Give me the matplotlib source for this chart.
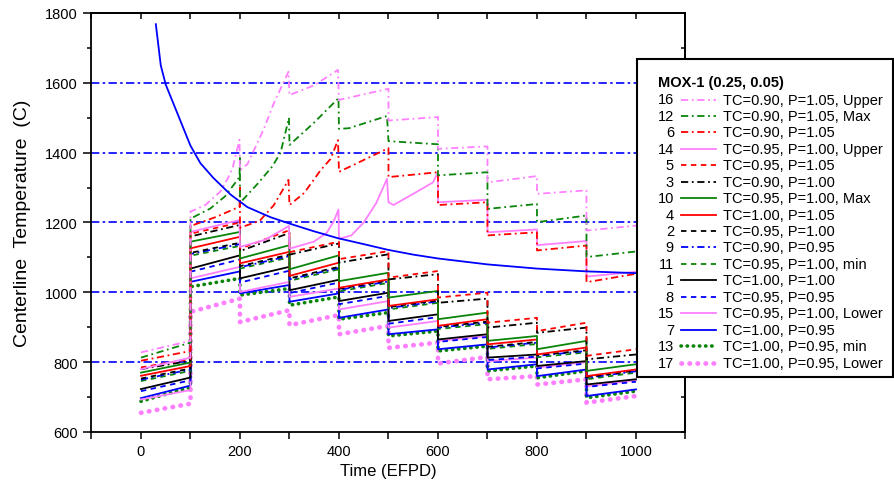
import matplotlib
matplotlib.use("Agg")
import matplotlib.pyplot as plt
from matplotlib.ticker import MultipleLocator
from matplotlib.patches import Rectangle

plt.rcParams['font.family'] = ['Liberation Sans', 'DejaVu Sans']

PINK = '#ff80ff'; GREEN = '#0a850a'; RED = '#ff0000'; BLUE = '#0000ff'; BLACK = '#000000'

# cycle limits (EFPD)
cycle_start = [0, 100, 200, 300, 400, 500, 600, 700, 800, 900]
cycle_end = [100, 200, 300, 400, 500, 600, 700, 800, 900, 1000]

# (start, end) temperature of each cycle
s5 = [(785, 809), (1168, 1200), (1125, 1178), (1115, 1145), (1095, 1118), (1042, 1061), (985, 999), (913, 927), (889, 913), (818, 837)]
s3 = [(780, 804), (1160, 1193), (1118, 1170), (1108, 1140), (1085, 1109), (1037, 1052), (970, 982), (899, 913), (884, 899), (808, 822)]
s10 = [(770, 799), (1145, 1173), (1097, 1135), (1066, 1106), (1032, 1056), (985, 1004), (923, 942), (861, 875), (837, 861), (775, 794)]
s4 = [(761, 789), (1126, 1159), (1083, 1116), (1047, 1085), (1013, 1037), (961, 980), (904, 923), (851, 865), (822, 842), (760, 779)]
s2 = [(753, 782), (1113, 1142), (1075, 1108), (1040, 1073), (1010, 1034), (958, 977), (901, 916), (844, 858), (820, 834), (757, 776)]
s9 = [(750, 779), (1110, 1138), (1072, 1104), (1037, 1070), (1007, 1031), (955, 974), (899, 913), (842, 856), (818, 832), (755, 774)]
s11 = [(746, 775), (1105, 1133), (1068, 1100), (1033, 1066), (1003, 1027), (951, 970), (895, 909), (838, 852), (814, 828), (751, 770)]
s1 = [(723, 756), (1068, 1106), (1040, 1073), (1006, 1036), (975, 999), (918, 937), (865, 880), (813, 822), (789, 803), (736, 751)]
s8 = [(717, 748), (1059, 1094), (1028, 1062), (998, 1028), (966, 990), (910, 929), (858, 872), (806, 816), (782, 796), (729, 744)]
s15 = [(693, 720), (1040, 1073), (1001, 1030), (987, 1011), (951, 975), (899, 918), (861, 875), (803, 813), (785, 800), (731, 748)]
s7 = [(697, 733), (1030, 1060), (997, 1021), (973, 997), (927, 951), (880, 894), (837, 851), (779, 794), (760, 779), (703, 722)]
s13 = [(688, 728), (1016, 1040), (992, 1011), (963, 987), (923, 942), (875, 889), (832, 846), (775, 789), (755, 775), (698, 717)]
s17 = [(655, 681), (944, 982), (915, 949), (906, 935), (880, 904), (841, 856), (796, 815), (751, 760), (736, 751), (684, 703)]

# upper curves, point by point
s16_t = [0, 100, 100, 130, 160, 175, 185, 199, 200, 215, 248, 268, 282, 298, 300, 350, 398, 400, 500, 500, 600, 600, 700, 700, 800, 800, 900, 900, 1000]
s16_T = [828, 861, 1231, 1250, 1288, 1325, 1355, 1437, 1350, 1367, 1467, 1540, 1583, 1632, 1565, 1593, 1637, 1551, 1583, 1492, 1502, 1411, 1418, 1315, 1333, 1282, 1292, 1177, 1191]
s12_t = [0, 100, 100, 140, 170, 199, 200, 200, 235, 265, 282, 299, 300, 349, 399, 400, 420, 497, 500, 600, 600, 700, 700, 800, 800, 900, 900, 1000]
s12_T = [813, 856, 1211, 1240, 1275, 1330, 1385, 1256, 1310, 1360, 1400, 1500, 1422, 1485, 1556, 1468, 1470, 1505, 1433, 1424, 1335, 1344, 1239, 1253, 1201, 1220, 1101, 1117]
s6_t = [0, 100, 100, 150, 199, 200, 200, 240, 268, 285, 298, 300, 330, 363, 383, 398, 400, 500, 500, 600, 600, 700, 700, 800, 800, 900, 900, 1000]
s6_T = [804, 832, 1190, 1215, 1245, 1300, 1185, 1205, 1249, 1290, 1322, 1250, 1285, 1350, 1382, 1436, 1345, 1413, 1330, 1344, 1250, 1258, 1163, 1172, 1120, 1134, 1029, 1053]
s14_t = [0, 100, 100, 199, 200, 250, 299, 300, 349, 375, 389, 399, 400, 425, 450, 475, 497, 500, 510, 550, 590, 600, 600, 700, 700, 800, 800, 900, 900, 1000]
s14_T = [780, 813, 1173, 1207, 1130, 1150, 1190, 1125, 1145, 1170, 1202, 1237, 1153, 1163, 1200, 1255, 1325, 1258, 1250, 1282, 1315, 1344, 1258, 1265, 1172, 1180, 1135, 1147, 1045, 1059]

# smooth decreasing curve
blue_t = [30, 40, 50, 60, 80, 100, 120, 146, 181, 215, 262, 300, 349, 398, 450, 498, 550, 600, 700, 800, 900, 1000]
blue_T = [1768, 1650, 1595, 1560, 1490, 1420, 1370, 1328, 1280, 1244, 1215, 1197, 1175, 1155, 1138, 1122, 1108, 1097, 1080, 1068, 1060, 1055]

grid_levels = [800, 1000, 1200, 1400, 1600]

legend_title = "MOX-1 (0.25, 0.05)"
legend_keys = ["16", "12", "6", "14", "5", "3", "10", "4", "2", "9", "11", "1", "8", "15", "7", "13", "17"]
legend_labels = ["TC=0.90, P=1.05, Upper", "TC=0.90, P=1.05, Max", "TC=0.90, P=1.05",
                 "TC=0.95, P=1.00, Upper", "TC=0.95, P=1.05", "TC=0.90, P=1.00",
                 "TC=0.95, P=1.00, Max", "TC=1.00, P=1.05", "TC=0.95, P=1.00",
                 "TC=0.90, P=0.95", "TC=0.95, P=1.00, min", "TC=1.00, P=1.00",
                 "TC=0.95, P=0.95", "TC=0.95, P=1.00, Lower", "TC=1.00, P=0.95",
                 "TC=1.00, P=0.95, min", "TC=1.00, P=0.95, Lower"]

DASHDOT = (0, (4, 2, 1, 2))
DASHED = (0, (3, 2.5))
styles = {
    "16": dict(color=PINK, ls=DASHDOT, lw=1.3),
    "12": dict(color=GREEN, ls=DASHDOT, lw=1.3),
    "6": dict(color=RED, ls=DASHDOT, lw=1.3),
    "14": dict(color=PINK, ls='-', lw=1.3),
    "5": dict(color=RED, ls=DASHED, lw=1.3),
    "3": dict(color=BLACK, ls=DASHDOT, lw=1.3),
    "10": dict(color=GREEN, ls='-', lw=1.3),
    "4": dict(color=RED, ls='-', lw=1.3),
    "2": dict(color=BLACK, ls=DASHED, lw=1.3),
    "9": dict(color=BLUE, ls=DASHDOT, lw=1.3),
    "11": dict(color=GREEN, ls=DASHED, lw=1.3),
    "1": dict(color=BLACK, ls='-', lw=1.3),
    "8": dict(color=BLUE, ls=DASHED, lw=1.3),
    "15": dict(color=PINK, ls='-', lw=1.3),
    "7": dict(color=BLUE, ls='-', lw=1.3),
    "13": dict(color=GREEN, ls=(0, (0.1, 1.6)), lw=2.6, dash_capstyle='round'),
    "17": dict(color=PINK, ls=(0, (0.1, 1.6)), lw=3.4, dash_capstyle='round'),
}

def cycles_to_xy(pairs):
    xs, ys = [], []
    for t0, t1, (a, b) in zip(cycle_start, cycle_end, pairs):
        xs += [t0, t1]; ys += [a, b]
    return xs, ys

series = {"16": (s16_t, s16_T), "12": (s12_t, s12_T), "6": (s6_t, s6_T), "14": (s14_t, s14_T)}
for key, pairs in [("5", s5), ("3", s3), ("10", s10), ("4", s4), ("2", s2), ("9", s9), ("11", s11),
                   ("1", s1), ("8", s8), ("15", s15), ("7", s7), ("13", s13), ("17", s17)]:
    series[key] = cycles_to_xy(pairs)

fig = plt.figure(figsize=(8.95, 4.81), dpi=100)
ax = fig.add_axes([0.1022, 0.0998, 0.6637, 0.8711])

for lvl in grid_levels:
    ax.axhline(lvl, color=BLUE, ls=(0, (5, 2, 1.5, 2)), lw=1.2, zorder=1)

for key in reversed(legend_keys):
    t, T = series[key]
    ax.plot(t, T, zorder=2, **styles[key])
ax.plot(blue_t, blue_T, zorder=2, **styles["7"])

ax.set_xlim(-100, 1100); ax.set_ylim(600, 1800)
ax.xaxis.set_major_locator(MultipleLocator(200)); ax.xaxis.set_minor_locator(MultipleLocator(100))
ax.yaxis.set_major_locator(MultipleLocator(200)); ax.yaxis.set_minor_locator(MultipleLocator(100))
ax.tick_params(axis='x', which='both', direction='out', length=5, width=1.1, labelsize=10.5, pad=4)
ax.tick_params(axis='y', which='major', direction='out', length=6, width=1.1, labelsize=10.5, pad=4)
ax.tick_params(axis='y', which='minor', direction='out', length=3, width=1.1)
for sp in ax.spines.values():
    sp.set_linewidth(1.3)

top = ax.secondary_xaxis('top')
top.xaxis.set_major_locator(MultipleLocator(100))
top.tick_params(direction='in', length=4, width=1.1, labeltop=False)
top.spines['top'].set_linewidth(1.3)
right = ax.secondary_yaxis('right')
right.yaxis.set_major_locator(MultipleLocator(100))
right.tick_params(direction='in', length=3, width=1.1, labelright=False)
right.spines['right'].set_linewidth(1.3)

ax.set_xlabel("Time (EFPD)", fontsize=12, labelpad=3)
ax.set_ylabel("Centerline  Temperature  (C)", fontsize=14, labelpad=10)

# legend box drawn in pixel coordinates
lax = fig.add_axes([0, 0, 1, 1], zorder=10)
lax.set_xlim(0, 895); lax.set_ylim(481, 0); lax.axis('off')
lax.add_patch(Rectangle((637, 60), 256, 318, facecolor='white', edgecolor='black', lw=1.5))
lax.text(658, 83, legend_title, fontsize=10.5, fontweight='bold', va='center')
for i, (key, lab) in enumerate(zip(legend_keys, legend_labels)):
    y = 100.5 + i * 16.44
    lax.text(674, y, key, fontsize=10.5, ha='right', va='center')
    lax.plot([681, 716], [y, y], **styles[key])
    lax.text(723, y, lab, fontsize=10.5, va='center')

fig.savefig("out.png", dpi=100)
